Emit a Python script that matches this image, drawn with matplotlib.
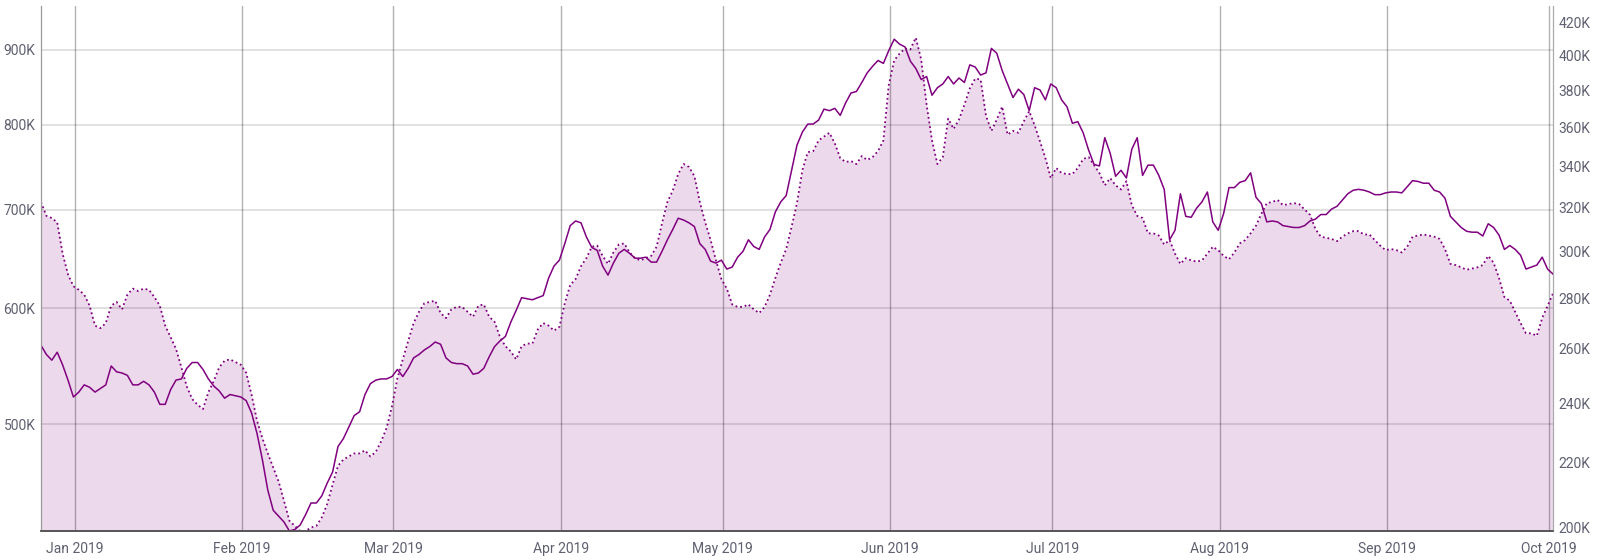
import matplotlib
matplotlib.use('Agg')
import matplotlib.pyplot as plt
import matplotlib.dates as mdates
from matplotlib.ticker import FuncFormatter, FixedLocator, NullLocator
import pandas as pd

plt.rcParams['font.family'] = ['Roboto', 'DejaVu Sans']

# daily values, in thousands
start = '2018-12-25 18:00'
solid_k = [
    566, 558, 553, 560, 549, 536, 522, 526, 532, 530,
    526, 529, 532, 548, 543, 542, 540, 532, 532, 535,
    532, 526, 516, 516, 528, 536, 537, 546, 551, 551,
    545, 537, 531, 527, 521, 524, 523, 522, 519, 509,
    493, 473, 451, 437, 433, 429, 423, 424, 427, 434,
    442, 442, 447, 456, 464, 483, 489, 498, 507, 510,
    524, 533, 536, 537, 537, 539, 545, 539, 546, 555,
    558, 562, 565, 569, 567, 555, 551, 550, 550, 548,
    541, 542, 546, 556, 565, 570, 574, 587, 598, 610,
    609, 608, 610, 612, 629, 641, 647, 664, 683, 688,
    686, 671, 660, 657, 641, 632, 644, 654, 658, 654,
    649, 649, 650, 645, 645, 656, 668, 679, 691, 689,
    686, 682, 664, 658, 646, 644, 647, 638, 640, 650,
    656, 668, 661, 658, 671, 679, 698, 709, 716, 745,
    775, 791, 801, 801, 806, 820, 818, 821, 812, 828,
    841, 843, 855, 868, 877, 885, 881, 899, 915, 908,
    904, 884, 874, 859, 863, 838, 848, 853, 863, 853,
    861, 855, 879, 876, 865, 868, 902, 895, 871, 853,
    835, 846, 839, 818, 848, 845, 832, 853, 848, 832,
    823, 802, 804, 790, 769, 752, 750, 784, 765, 738,
    745, 736, 770, 784, 739, 751, 751, 739, 723, 668,
    678, 718, 693, 692, 702, 709, 720, 687, 678, 696,
    725, 725, 731, 733, 742, 714, 707, 687, 688, 687,
    683, 682, 681, 681, 683, 688, 690, 695, 695, 701,
    704, 711, 718, 722, 723, 722, 720, 717, 717, 719,
    720, 720, 719, 726, 733, 732, 730, 730, 722, 720,
    713, 693, 687, 681, 677, 676, 676, 672, 685, 681,
    673, 658, 662, 658, 652, 638, 640, 642, 650, 638,
    633,
]
dotted_k = [
    322.5, 316, 315, 313, 299, 290, 285, 283.5, 281.5, 277,
    269, 268, 270, 277, 278.5, 275.5, 281.5, 284, 283, 284,
    283.5, 280.5, 277, 269, 264.5, 260, 253, 246, 241.5, 239.5,
    238, 244, 248, 253, 255.5, 256, 255, 254, 251, 243,
    234, 228, 223, 218.5, 214, 208, 202, 200.5, 199, 199,
    200, 200.5, 203, 207, 213, 219, 221, 222, 223, 223,
    224, 222, 223.5, 227, 231.5, 239, 249, 256, 263, 270,
    274.5, 278, 278.5, 279, 274, 272, 275.5, 276.5, 276.5, 274.5,
    272.5, 277, 277.5, 272.5, 270.5, 264.5, 261, 259, 256, 261,
    262, 262, 267.5, 270, 269, 267, 268.5, 278, 285.5, 288,
    293.5, 297, 302, 302.5, 298, 294.5, 299.5, 303, 303.5, 299.5,
    297, 296, 297, 298, 302, 312.5, 322.5, 328, 336, 341,
    339.5, 335, 322.5, 313, 305, 296, 288, 284, 277.5, 276.5,
    276.5, 277.5, 275.5, 274, 276.5, 281.5, 288.5, 295, 301, 311,
    322, 338, 347, 347.5, 353, 355, 357, 351.5, 344, 342,
    342.5, 341, 345, 343, 344.5, 347.5, 353, 383, 397, 401,
    404, 403.5, 410.5, 397.5, 372, 353, 341, 344.5, 364.5, 359,
    364, 372, 381, 386.5, 386, 366, 358, 364, 371, 356,
    358, 357, 363, 368.5, 361, 352.5, 344, 334, 339, 336.5,
    336, 336, 339, 343.5, 344.5, 340.5, 336.5, 330.5, 334, 330.5,
    328.5, 332.5, 321, 316, 315, 308, 308, 307, 303, 305,
    299, 294.5, 297, 296, 295.5, 296, 299, 302, 300.5, 298,
    296.5, 299.5, 303.5, 305, 308, 311.5, 317, 322, 322.5, 323.5,
    321, 321.5, 322, 321.5, 319, 316.5, 310, 306.5, 306, 305.5,
    304.5, 306.5, 308, 309, 309, 307.5, 307.5, 305, 302.5, 300.5,
    301, 300.5, 299.5, 302, 306.5, 307, 307.5, 307, 306.5, 305.5,
    301, 294.5, 294, 293, 292, 292.5, 293, 294, 298, 295,
    288.5, 280.5, 279, 274.5, 270, 266, 266, 265, 272, 277,
    282,
]
left_ticks = [500, 600, 700, 800, 900]
right_ticks = [200, 220, 240, 260, 280, 300, 320, 340, 360, 380, 400, 420]
left_lim = (423, 964)
right_lim = (199, 430)

purple = '#800080'
text_col = '#5f6070'

dates = pd.date_range(start, periods=len(solid_k), freq='D')
kfmt = FuncFormatter(lambda v, p: f'{v:.0f}K')

fig = plt.figure(figsize=(16, 5.6), dpi=100)
ax = fig.add_axes([41 / 1600, 29 / 560, 1512 / 1600, 525 / 560])
ax2 = ax.twinx()

# filled dotted series on the right-hand scale (drawn underneath)
ax.set_yscale('log')
ax.set_ylim(*right_lim)
ax.set_axisbelow(True)
ax.grid(axis='x', color='black', alpha=0.3, lw=1.0)
ax.fill_between(dates, dotted_k, right_lim[0], color=purple, alpha=0.15, linewidth=0)
ax.plot(dates, dotted_k, color=purple, lw=1.3, linestyle=(0, (1, 1.6)))
ax.yaxis.tick_right()
ax.yaxis.set_major_locator(FixedLocator(right_ticks))
ax.yaxis.set_minor_locator(NullLocator())
ax.yaxis.set_major_formatter(kfmt)

# solid series on the left-hand scale
ax2.set_yscale('log')
ax2.set_ylim(*left_lim)
ax2.grid(axis='y', color='black', alpha=0.13, lw=1.3)
ax2.plot(dates, solid_k, color=purple, lw=1.1)
ax2.yaxis.tick_left()
ax2.yaxis.set_major_locator(FixedLocator(left_ticks))
ax2.yaxis.set_minor_locator(NullLocator())
ax2.yaxis.set_major_formatter(kfmt)

ax.set_xlim(dates[0], dates[-1])
ax.xaxis.set_major_locator(mdates.MonthLocator())
ax.xaxis.set_major_formatter(mdates.DateFormatter('%b %Y'))

for a in (ax, ax2):
    a.tick_params(length=0, labelsize=10, labelcolor=text_col)
    a.spines['top'].set_visible(False)
    a.spines['left'].set_color('#999999')
    a.spines['right'].set_color('#aaaaaa')
    a.spines['bottom'].set_color('#555555')
    a.spines['bottom'].set_linewidth(1.2)
ax.tick_params(axis='x', pad=8)
ax.tick_params(axis='y', pad=4)
ax2.tick_params(axis='y', pad=4)

fig.savefig('out.png', dpi=100)
